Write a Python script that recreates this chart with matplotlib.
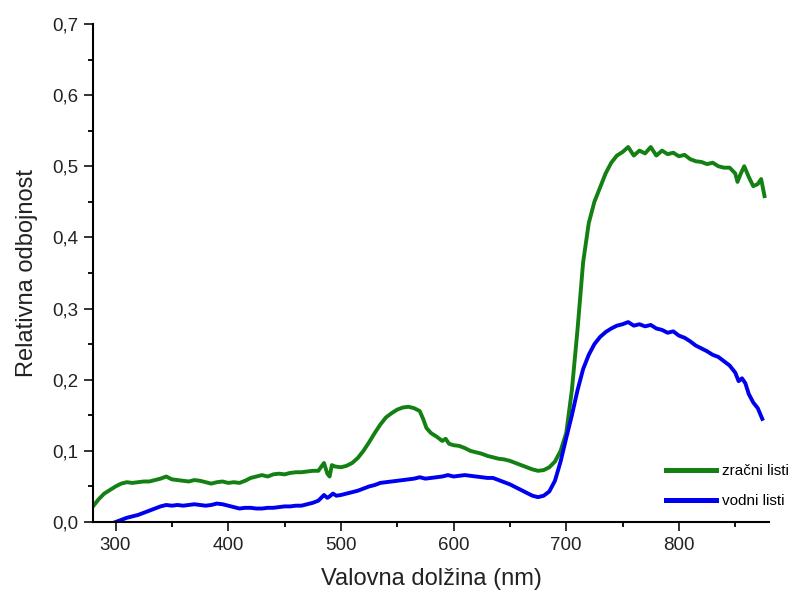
import numpy as np
import matplotlib.pyplot as plt
from matplotlib.ticker import MultipleLocator, FuncFormatter

# -----------------------------------------------------------------------------
# Data
# -----------------------------------------------------------------------------
green_nm = [280, 285, 290, 295, 300, 305, 310, 315, 320, 325, 330, 335, 340, 345,
            350, 355, 360, 365, 370, 375, 380, 385, 390, 395, 400, 405, 410, 415,
            420, 425, 430, 435, 440, 445, 450, 455, 460, 465, 470, 475, 480, 485,
            488, 490, 492, 495, 500, 505, 510, 515, 520, 525, 530, 535, 540, 545,
            550, 555, 560, 565, 570, 573, 576, 580, 585, 590, 593, 596, 600, 605,
            610, 615, 620, 625, 630, 635, 640, 645, 650, 655, 660, 665, 670, 675,
            680, 685, 690, 695, 700, 705, 710, 715, 720, 725, 730, 735, 740, 745,
            750, 755, 760, 765, 770, 775, 780, 785, 790, 795, 800, 805, 810, 815,
            820, 825, 830, 835, 840, 845, 850, 852, 855, 858, 862, 866, 870, 873,
            876]
green_refl = [0.022, 0.032, 0.040, 0.045, 0.050, 0.054, 0.056, 0.055, 0.056, 0.057,
              0.057, 0.059, 0.061, 0.064, 0.060, 0.059, 0.058, 0.057, 0.059, 0.058,
              0.056, 0.054, 0.056, 0.057, 0.055, 0.056, 0.055, 0.058, 0.062, 0.064,
              0.066, 0.064, 0.067, 0.068, 0.067, 0.069, 0.070, 0.070, 0.071, 0.072,
              0.072, 0.083, 0.068, 0.064, 0.080, 0.078, 0.077, 0.079, 0.083, 0.090,
              0.100, 0.112, 0.125, 0.137, 0.147, 0.153, 0.158, 0.161, 0.162, 0.160,
              0.156, 0.145, 0.132, 0.125, 0.120, 0.114, 0.117, 0.110, 0.108, 0.107,
              0.104, 0.100, 0.098, 0.096, 0.093, 0.091, 0.089, 0.088, 0.086, 0.083,
              0.080, 0.077, 0.074, 0.072, 0.073, 0.077, 0.085, 0.100, 0.125, 0.185,
              0.270, 0.365, 0.420, 0.450, 0.470, 0.490, 0.505, 0.515, 0.520, 0.527,
              0.515, 0.522, 0.518, 0.527, 0.515, 0.522, 0.517, 0.519, 0.514, 0.516,
              0.510, 0.507, 0.506, 0.503, 0.505, 0.500, 0.498, 0.498, 0.490, 0.478,
              0.490, 0.500, 0.485, 0.472, 0.475, 0.482, 0.458]

blue_nm = [300, 305, 310, 315, 320, 325, 330, 335, 340, 345, 350, 355, 360, 365,
           370, 375, 380, 385, 390, 395, 400, 405, 410, 415, 420, 425, 430, 435,
           440, 445, 450, 455, 460, 465, 470, 475, 480, 485, 488, 490, 493, 496,
           500, 505, 510, 515, 520, 525, 530, 535, 540, 545, 550, 555, 560, 565,
           570, 575, 580, 585, 590, 595, 600, 605, 610, 615, 620, 625, 630, 635,
           640, 645, 650, 655, 660, 665, 670, 675, 680, 685, 690, 695, 700, 705,
           710, 715, 720, 725, 730, 735, 740, 745, 750, 755, 760, 765, 770, 775,
           780, 785, 790, 795, 800, 805, 810, 815, 820, 825, 830, 835, 840, 845,
           850, 853, 856, 859, 862, 866, 870, 874]
blue_refl = [0.000, 0.003, 0.006, 0.008, 0.010, 0.013, 0.016, 0.019, 0.022, 0.024,
             0.023, 0.024, 0.023, 0.024, 0.025, 0.024, 0.023, 0.024, 0.026, 0.025,
             0.023, 0.021, 0.019, 0.020, 0.020, 0.019, 0.019, 0.020, 0.020, 0.021,
             0.022, 0.022, 0.023, 0.023, 0.025, 0.027, 0.030, 0.038, 0.034, 0.036,
             0.040, 0.037, 0.038, 0.040, 0.042, 0.044, 0.047, 0.050, 0.052, 0.055,
             0.056, 0.057, 0.058, 0.059, 0.060, 0.061, 0.063, 0.061, 0.062, 0.063,
             0.064, 0.066, 0.064, 0.065, 0.066, 0.065, 0.064, 0.063, 0.062, 0.062,
             0.059, 0.056, 0.053, 0.049, 0.045, 0.041, 0.037, 0.035, 0.037, 0.043,
             0.058, 0.085, 0.118, 0.150, 0.185, 0.215, 0.235, 0.250, 0.260, 0.267,
             0.272, 0.276, 0.278, 0.281, 0.276, 0.278, 0.275, 0.277, 0.272, 0.270,
             0.266, 0.268, 0.262, 0.259, 0.254, 0.248, 0.244, 0.240, 0.235, 0.232,
             0.226, 0.220, 0.210, 0.198, 0.202, 0.195, 0.180, 0.168, 0.160, 0.145]

# -----------------------------------------------------------------------------
# Style
# -----------------------------------------------------------------------------
C_AIR = "#138013"
C_WATER = "#0000f0"
C_TEXT = "#222222"

plt.rcParams["font.family"] = ["Liberation Sans", "DejaVu Sans"]

fig = plt.figure(figsize=(7.92, 5.98), dpi=100, facecolor="white")
ax = fig.add_axes([0.1174, 0.127, 0.8536, 0.833])

ax.plot(green_nm, green_refl, color=C_AIR, lw=2.8, label="zračni listi",
        solid_joinstyle="round")
ax.plot(blue_nm, blue_refl, color=C_WATER, lw=2.8, label="vodni listi",
        solid_joinstyle="round")

ax.set_xlim(280, 880)
ax.set_ylim(0, 0.7)
ax.xaxis.set_major_locator(MultipleLocator(100))
ax.xaxis.set_minor_locator(MultipleLocator(50))
ax.yaxis.set_major_locator(MultipleLocator(0.1))
ax.yaxis.set_minor_locator(MultipleLocator(0.05))
ax.yaxis.set_major_formatter(FuncFormatter(lambda v, p: f"{v:.1f}".replace(".", ",")))

for side in ("top", "right"):
    ax.spines[side].set_visible(False)
for side in ("left", "bottom"):
    ax.spines[side].set_linewidth(1.5)

ax.tick_params(which="major", direction="out", length=6.5, width=1.3,
               labelsize=13.5, pad=4, colors=C_TEXT)
ax.tick_params(which="minor", direction="out", length=3.5, width=1.3)

ax.set_xlabel("Valovna dolžina (nm)", fontsize=17, color=C_TEXT, labelpad=10)
ax.set_ylabel("Relativna odbojnost", fontsize=17, color=C_TEXT, labelpad=10)

leg = ax.legend(loc="lower right", bbox_to_anchor=(1.05, 0.0), frameon=False,
                fontsize=11, handlelength=3.3, labelspacing=1.05,
                handletextpad=0.4)
for line in leg.get_lines():
    line.set_linewidth(3.6)

fig.savefig("out.png", dpi=100, facecolor="white")
